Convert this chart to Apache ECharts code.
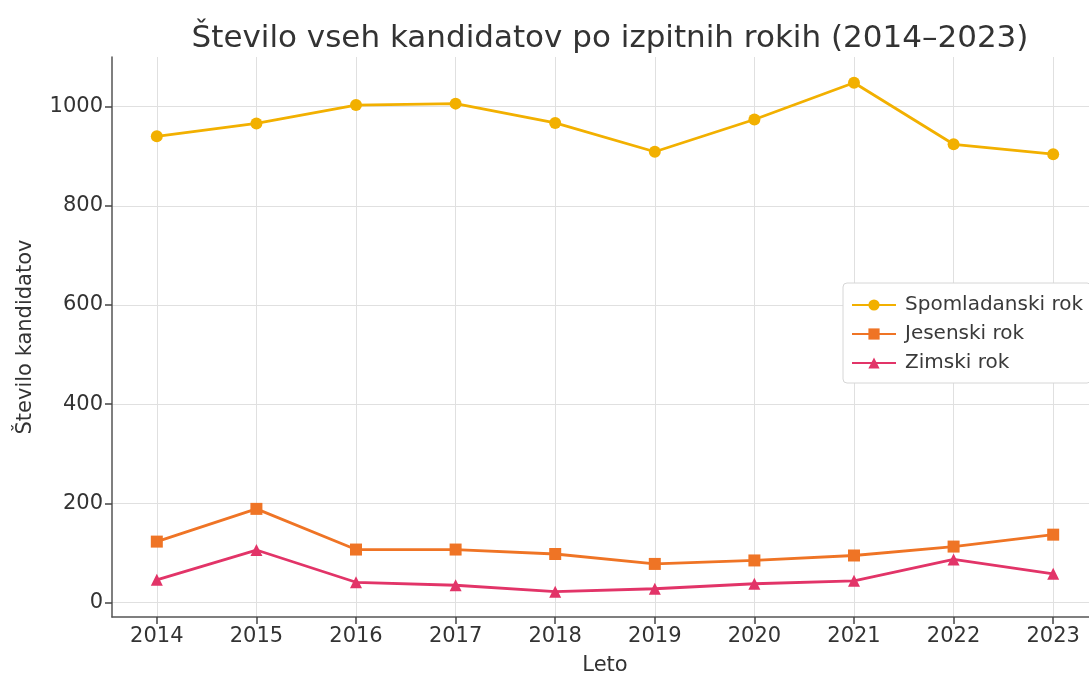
<!DOCTYPE html>
<html>
<head>
<meta charset="utf-8">
<script src="https://cdn.jsdelivr.net/npm/echarts@6/dist/echarts.min.js"></script>
<style>
  html, body { margin: 0; padding: 0; background: #fff; }
  #chart { width: 1089px; height: 674px; }
</style>
</head>
<body>
<div id="chart"></div>
<script>
// Exam years
const years = [2014, 2015, 2016, 2017, 2018, 2019, 2020, 2021, 2022, 2023];
// Number of candidates per exam session
const spomladanski = [940, 966, 1003, 1006, 967, 909, 974, 1048, 924, 904];
const jesenski = [123, 189, 107, 107, 98, 78, 85, 95, 113, 137];
const zimski = [46, 106, 41, 35, 22, 28, 38, 44, 87, 58];
// Tick labels on the value axis
const yTicks = [0, 200, 400, 600, 800, 1000];

const FONT = 'DejaVu Sans';
const TXT = '#333333';

function pairs(vals) {
  return years.map((y, i) => [y, vals[i]]);
}

function lineSeries(name, vals, color, symbol, size) {
  return {
    name: name,
    type: 'line',
    data: pairs(vals),
    symbol: symbol,
    symbolSize: size,
    showAllSymbol: true,
    lineStyle: { color: color, width: 2.8 },
    itemStyle: { color: color, borderWidth: 0 },
    emphasis: { disabled: true },
    z: 3
  };
}

const chart = echarts.init(document.getElementById('chart'), null, { renderer: 'canvas' });

chart.setOption({
  animation: false,
  backgroundColor: '#ffffff',
  title: {
    text: 'Število vseh kandidatov po izpitnih rokih (2014–2023)',
    left: 605,
    top: 18,
    textAlign: 'center',
    textStyle: { fontFamily: FONT, fontSize: 31, fontWeight: 'normal', color: TXT }
  },
  legend: {
    orient: 'vertical',
    left: 843,
    top: 283,
    padding: [12, 8, 10, 8],
    itemWidth: 44,
    itemHeight: 14,
    itemGap: 9,
    backgroundColor: '#ffffff',
    borderColor: '#d6d6d6',
    borderWidth: 1,
    borderRadius: 4,
    textStyle: { fontFamily: FONT, fontSize: 20, color: '#3a3a3a', lineHeight: 20, padding: [0, 0, 0, 4] },
    data: ['Spomladanski rok', 'Jesenski rok', 'Zimski rok']
  },
  grid: {
    left: 112,
    top: 57,
    width: 986,
    height: 560,
    containLabel: false,
    outerBoundsMode: 'none'
  },
  xAxis: {
    type: 'value',
    min: 2013.55,
    max: 2023.45,
    name: 'Leto',
    nameLocation: 'middle',
    nameGap: 38,
    nameTextStyle: { fontFamily: FONT, fontSize: 21, color: TXT },
    axisLine: { show: true, onZero: false, lineStyle: { color: '#555555', width: 1.5 } },
    axisTick: { show: true, length: 7, inside: false, customValues: years, lineStyle: { color: '#444444', width: 1.5 } },
    axisLabel: {
      customValues: years,
      margin: 9,
      fontFamily: FONT, fontSize: 21, color: TXT,
      formatter: v => String(Math.round(v))
    },
    splitLine: { show: true, customValues: years, lineStyle: { color: '#e0e0e0', width: 1 } }
  },
  yAxis: {
    type: 'value',
    min: -29,
    max: 1100,
    name: 'Število kandidatov',
    nameLocation: 'middle',
    nameGap: 76,
    nameTextStyle: { fontFamily: FONT, fontSize: 21, color: TXT },
    axisLine: { show: true, onZero: false, lineStyle: { color: '#555555', width: 1.5 } },
    axisTick: { show: true, length: 7, inside: false, customValues: yTicks, lineStyle: { color: '#444444', width: 1.5 } },
    axisLabel: {
      customValues: yTicks,
      margin: 9,
      fontFamily: FONT, fontSize: 21, color: TXT,
      formatter: v => String(Math.round(v))
    },
    splitLine: { show: true, customValues: yTicks, lineStyle: { color: '#e0e0e0', width: 1 } }
  },
  series: [
    lineSeries('Spomladanski rok', spomladanski, '#f2b000', 'circle', 12),
    lineSeries('Jesenski rok', jesenski, '#ef7425', 'rect', 12),
    lineSeries('Zimski rok', zimski, '#e23468', 'triangle', 12)
  ]
});
</script>
</body>
</html>
